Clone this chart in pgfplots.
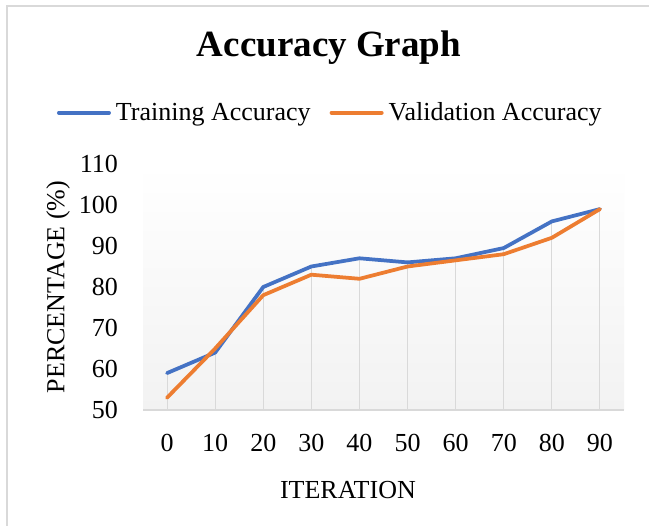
\documentclass[border=0pt]{standalone}
\usepackage{fontspec}
\setmainfont{Liberation Serif}
\usepackage{pgfplots}
\pgfplotsset{compat=1.18}
\definecolor{cblue}{HTML}{4472C4}
\definecolor{corange}{HTML}{ED7D31}
\definecolor{cgrid}{HTML}{D9D9D9}
\definecolor{cbg}{HTML}{F2F2F2}
\newcommand{\fs}{\fontsize{26bp}{30bp}\selectfont}
\begin{document}
\begin{tikzpicture}[x=1bp,y=1bp]
\useasboundingbox (0,0) rectangle (649,526);
\fill[white] (0,0) rectangle (649,526);
\draw[cgrid, line width=2bp] (7,0) -- (7,519.5) -- (649,519.5);
\begin{axis}[
  at={(143bp,116bp)}, anchor=south west,
  scale only axis, width=481bp, height=246bp,
  xmin=-5, xmax=95, ymin=50, ymax=110,
  xtick={0,10,...,90}, ytick={50,60,...,110},
  major tick length=0pt,
  axis x line*=bottom, axis y line*=left,
  separate axis lines,
  x axis line style={draw=cgrid, line width=1.5bp, -},
  y axis line style={draw=none},
  /pgf/number format/assume math mode=true,
  tick label style={font=\fs, inner sep=0pt},
  xticklabel style={anchor=north, yshift=-24bp},
  yticklabel style={anchor=east, xshift=-25bp},
  xlabel={ITERATION}, ylabel={PERCENTAGE (\%)},
  label style={font=\fs},
  xlabel style={at={(axis description cs:0.426,-0.3618)}, anchor=base, inner sep=0pt},
  ylabel style={at={(axis description cs:-0.1767,0.5)}, anchor=center, inner sep=0pt},
  title={Accuracy Graph},
  title style={font=\fontsize{37bp}{44bp}\selectfont\bfseries, at={(axis description cs:0.3867,1.4146)}, anchor=base, inner sep=0pt},
  axis background/.style={top color=white, bottom color=cbg},
  legend columns=2,
  legend style={at={(axis description cs:-0.1788,1.2085)}, anchor=west, draw=none, fill=none,
    inner sep=0pt, outer sep=0pt, font=\fs, nodes={inner sep=0pt},
    /tikz/every odd column/.append style={column sep=5bp},
    /tikz/every even column/.append style={column sep=19bp}},
  legend image code/.code={\draw[#1, line width=3.75bp, line cap=round] (1.9bp,0bp) -- (52.1bp,0bp);},
]
\addplot[ycomb, draw=cgrid, line width=1bp, no markers, forget plot] coordinates {
 (0,59) (10,65) (20,80) (30,85) (40,87) (50,86) (60,87) (70,89.5) (80,96) (90,99)};
\addplot[cblue, line width=3.75bp, line join=round, line cap=round, no markers] coordinates {
 (0,59) (10,64) (20,80) (30,85) (40,87) (50,86) (60,87) (70,89.5) (80,96) (90,99)};
\addlegendentry{Training Accuracy}
\addplot[corange, line width=3.75bp, line join=round, line cap=round, no markers] coordinates {
 (0,53) (10,65) (20,78) (30,83) (40,82) (50,85) (60,86.5) (70,88) (80,92) (90,99)};
\addlegendentry{Validation Accuracy}
\end{axis}
\end{tikzpicture}
\end{document}
